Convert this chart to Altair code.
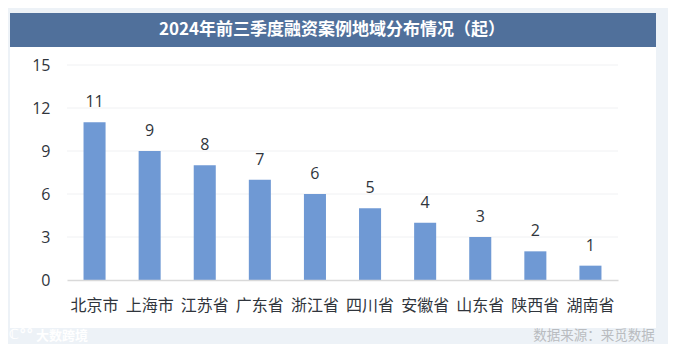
import altair as alt
import pandas as pd

categories = ["北京市", "上海市", "江苏省", "广东省", "浙江省", "四川省", "安徽省", "山东省", "陕西省", "湖南省"]
values = [11, 9, 8, 7, 6, 5, 4, 3, 2, 1]
y_ticks = [0, 3, 6, 9, 12, 15]
grid_ticks = [3, 6, 9, 12, 15]
title_text = "2024年前三季度融资案例地域分布情况（起）"
source_text = "数据来源：来觅数据"
brand_text = "大数跨境"
logo_text = "ℂ°°"

FONT = "Open Sans, Noto Sans CJK SC, sans-serif"
CJK = "Noto Sans CJK SC, sans-serif"
PL, PT, W, H = 59, 57, 551, 215
TOTAL_W, TOTAL_H = 660, 336
INK = "#30353c"

df = pd.DataFrame({"c": categories, "v": values})
gdf = pd.DataFrame({"t": grid_ticks})
one = pd.DataFrame({"a": [0]})

def box(x, x2, y, y2, color):
    return alt.Chart(one).mark_rect(color=color).encode(
        x=alt.value(x - 8 - PL), x2=alt.value(x2 - 8 - PL),
        y=alt.value(y - 8 - PT), y2=alt.value(y2 - 8 - PT))

def label(text, x, y, **kw):
    return alt.Chart(one).mark_text(text=text, **kw).encode(
        x=alt.value(x - 8 - PL), y=alt.value(y - 8 - PT))

panel = box(10, 656, 47, 328, "#ffffff")
band = box(10, 656, 13, 47, "#50709b")
title = label(title_text, 329, 30, font=CJK, fontSize=17, fontWeight="bold", color="#ffffff", dx=3)
source = label(source_text, 594, 336, font=CJK, fontSize=13.5, color="#b9bcc0")
brand = label(brand_text, 62, 336, font=CJK, fontSize=13, color="#ffffff", fontWeight="bold")
logo = label(logo_text, 21, 335, font="DejaVu Sans", fontSize=14, color="#ffffff", fontWeight="bold")

xs = alt.Scale(domain=categories, paddingInner=0.6, paddingOuter=0.3)
ys = alt.Scale(domain=[0, 15], nice=False)

x = alt.X("c:N", sort=categories, scale=xs, title=None,
          axis=alt.Axis(labelAngle=0, labelFont=CJK, labelFontSize=16, labelColor=INK,
                        labelPadding=17, ticks=False, domainColor="#d9d9d9", domainWidth=1.5,
                        grid=False, labelOverlap=False, zindex=1))
y = alt.Y("v:Q", scale=ys, title=None,
          axis=alt.Axis(values=y_ticks, labelFont=FONT, labelFontSize=16, labelColor=INK,
                        labelPadding=17, ticks=False, domain=False, grid=False, zindex=1))

grid = alt.Chart(gdf).mark_rule(color="#f0f1f3", strokeWidth=1).encode(y=alt.Y("t:Q", scale=ys))
bars = alt.Chart(df).mark_bar(color="#6f99d4").encode(x=x, y=y)
text = alt.Chart(df).mark_text(dy=-20, font=FONT, fontSize=16, color=INK).encode(
    x=alt.X("c:N", sort=categories, scale=xs), y=alt.Y("v:Q", scale=ys), text="v:Q")

chart = alt.layer(panel, band, title, grid, bars, text, source, brand, logo).properties(
    width=W, height=H,
    background="#edf2f7",
    padding={"left": PL, "top": PT, "right": TOTAL_W - PL - W, "bottom": TOTAL_H - PT - H},
    autosize=alt.AutoSizeParams(type="none", contains="content"),
).configure_view(stroke=None)

chart.save("out.html", embed_options={"renderer": "svg", "actions": False})
